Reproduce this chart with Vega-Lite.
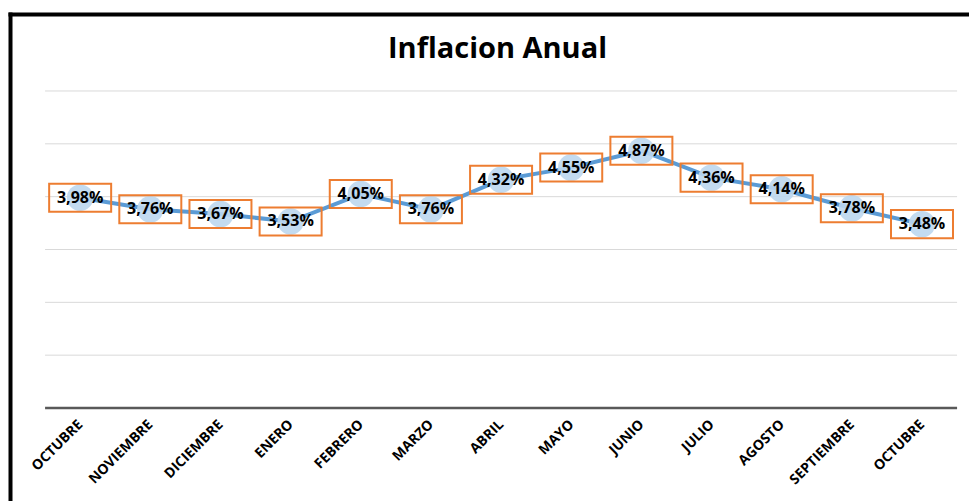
{
  "$schema": "https://vega.github.io/schema/vega-lite/v6.json",
  "width": 959,
  "height": 487,
  "autosize": {"type": "none"},
  "padding": {"left": 10, "top": 14, "right": 0, "bottom": 0},
  "background": "white",
  "config": {
    "view": {"stroke": null},
    "font": "Open Sans",
    "locale": {"number": {"decimal": ",", "thousands": ".", "grouping": [3], "currency": ["", "%"]}}
  },
  "title": {
    "text": "Inflacion Anual",
    "font": "Open Sans",
    "fontSize": 29,
    "fontWeight": "bold",
    "color": "black",
    "anchor": "middle",
    "frame": "group",
    "baseline": "alphabetic",
    "offset": -73,
    "dx": 8
  },
  "datasets": {
    "serie": [
      {"i": 0, "mes": "OCTUBRE", "v": 3.98},
      {"i": 1, "mes": "NOVIEMBRE", "v": 3.76},
      {"i": 2, "mes": "DICIEMBRE", "v": 3.67},
      {"i": 3, "mes": "ENERO", "v": 3.53},
      {"i": 4, "mes": "FEBRERO", "v": 4.05},
      {"i": 5, "mes": "MARZO", "v": 3.76},
      {"i": 6, "mes": "ABRIL", "v": 4.32},
      {"i": 7, "mes": "MAYO", "v": 4.55},
      {"i": 8, "mes": "JUNIO", "v": 4.87},
      {"i": 9, "mes": "JULIO", "v": 4.36},
      {"i": 10, "mes": "AGOSTO", "v": 4.14},
      {"i": 11, "mes": "SEPTIEMBRE", "v": 3.78},
      {"i": 12, "mes": "OCTUBRE", "v": 3.48}
    ],
    "rejilla": [{"g": 1}, {"g": 2}, {"g": 3}, {"g": 4}, {"g": 5}, {"g": 6}, {"g": 0}]
  },
  "resolve": {"axis": {"x": "independent", "y": "independent"}},
  "layer": [
    {
      "data": {"name": "rejilla"},
      "mark": {"type": "rule"},
      "encoding": {
        "x": {"datum": -0.5, "type": "quantitative",
          "scale": {"domain": [-1, 12.67], "nice": false, "zero": false},
          "axis": {"orient": "top", "domain": true, "domainColor": "black", "domainWidth": 4, "domainCap": "square", "ticks": false, "labels": false, "grid": false, "title": null}},
        "x2": {"datum": 12.5},
        "y": {"field": "g", "type": "quantitative",
          "scale": {"domain": [-1.76, 7.457], "nice": false, "zero": false},
          "axis": {"orient": "left", "domain": true, "domainColor": "black", "domainWidth": 4, "domainCap": "square", "ticks": false, "labels": false, "grid": false, "title": null}},
        "color": {"condition": {"test": "datum.g === 0", "value": "#595959"}, "value": "#D9D9D9"},
        "strokeWidth": {"condition": {"test": "datum.g === 0", "value": 2.5}, "value": 1}
      }
    },
    {
      "data": {"name": "serie"},
      "mark": {"type": "line", "color": "#5B9BD5", "strokeWidth": 4},
      "encoding": {
        "x": {"field": "i", "type": "quantitative",
          "axis": {"orient": "bottom", "offset": -93, "values": [0,1,2,3,4,5,6,7,8,9,10,11,12],
            "labelExpr": "['OCTUBRE','NOVIEMBRE','DICIEMBRE','ENERO','FEBRERO','MARZO','ABRIL','MAYO','JUNIO','JULIO','AGOSTO','SEPTIEMBRE','OCTUBRE'][datum.value]",
            "labelAngle": -45, "labelAlign": "right", "labelBaseline": "middle", "labelFont": "Open Sans", "labelFontSize": 14, "labelFontWeight": "bold", "labelColor": "black",
            "labelPadding": 14, "labelFlush": false, "labelOverlap": false, "labelBound": false,
            "domain": false, "ticks": false, "grid": false, "title": null}},
        "y": {"field": "v", "type": "quantitative", "axis": null}
      }
    },
    {
      "data": {"name": "serie"},
      "mark": {"type": "point", "filled": true, "color": "#BDD7EE", "size": 700, "opacity": 0.9},
      "encoding": {
        "x": {"field": "i", "type": "quantitative", "axis": null},
        "y": {"field": "v", "type": "quantitative", "axis": null}
      }
    },
    {
      "data": {"name": "serie"},
      "mark": {"type": "point", "filled": false, "shape": "M-1,-0.452L1,-0.452L1,0.452L-1,0.452Z", "size": 3844, "stroke": "#ED7D31", "strokeWidth": 2, "opacity": 1},
      "encoding": {
        "x": {"field": "i", "type": "quantitative", "axis": null},
        "y": {"field": "v", "type": "quantitative", "axis": null}
      }
    },
    {
      "data": {"name": "serie"},
      "mark": {"type": "text", "font": "Open Sans", "fontSize": 16, "fontWeight": "bold", "color": "black", "align": "center", "baseline": "middle"},
      "encoding": {
        "x": {"field": "i", "type": "quantitative", "axis": null},
        "y": {"field": "v", "type": "quantitative", "axis": null},
        "text": {"field": "v", "type": "quantitative", "format": "$.2f"}
      }
    }
  ]
}
